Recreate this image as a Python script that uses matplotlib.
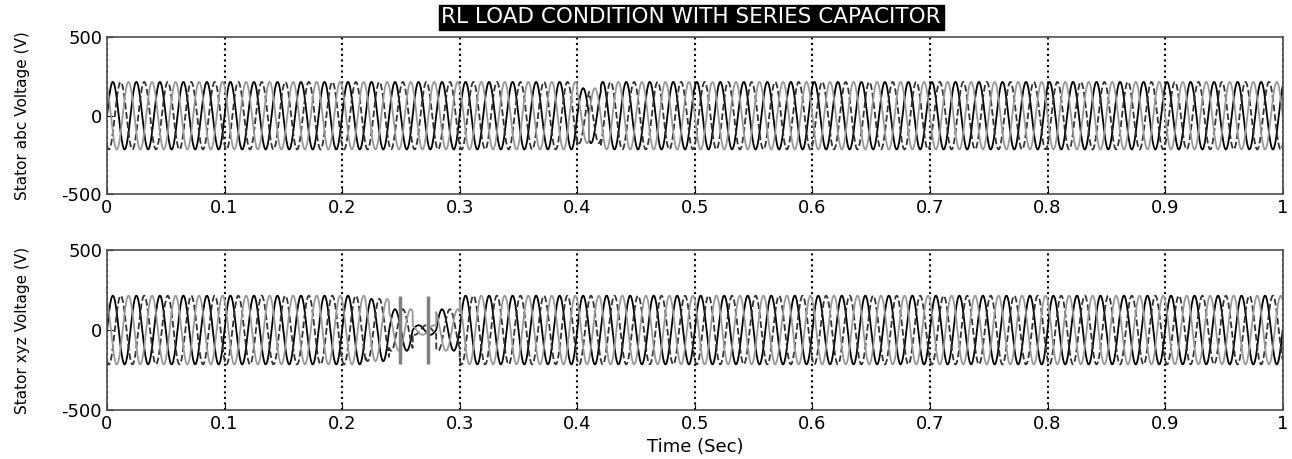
#
#   Stator voltages - RL load with series capacitor
#

import numpy as np
import matplotlib.pyplot as plt

plt.rcParams['font.family'] = ['DejaVu Sans']
plt.rcParams['axes.unicode_minus'] = False

#   Values
f_hz = 50                       # 50 cycles in 1 s
phase_deg = [0, -120, 120]      # three phases
phase_colors = ['black', '0.2', '0.6']
phase_styles = ['-', '--', '-']

#   peak of every 20 ms cycle (V)
abc_peaks = [215] * 20 + [175] + [215] * 29
xyz_peaks = [215] * 11 + [195, 130, 30, 130] + [215] * 35

#   phase step in the abc voltages near 0.4 s
abc_jump_t = 0.41
abc_jump_deg = 60

#   short full-height spikes in the xyz voltages
xyz_spike_t = [0.249, 0.273]
xyz_spike_v = [215, 215]

x_ticks = [0, 0.1, 0.2, 0.3, 0.4, 0.5, 0.6, 0.7, 0.8, 0.9, 1]
x_labels = ['0', '0.1', '0.2', '0.3', '0.4', '0.5', '0.6', '0.7', '0.8', '0.9', '1']
y_ticks = [-500, 0, 500]

t = np.linspace(0, 1, 40001)
cycle = np.minimum((t * f_hz).astype(int), f_hz - 1)


def three_phase(peaks, jump_t=None, jump_deg=0):
    env = np.array(peaks)[cycle]
    shift = np.zeros_like(t)
    if jump_t is not None:
        shift[t >= jump_t] = np.radians(jump_deg)
    return [env * np.sin(2 * np.pi * f_hz * t + np.radians(p) + shift) for p in phase_deg]


fig = plt.figure(figsize=(12.92, 4.59), dpi=100)
ax1 = fig.add_axes([0.0828, 0.577, 0.910, 0.342])
ax2 = fig.add_axes([0.0828, 0.107, 0.910, 0.348])

for v, c, ls in zip(three_phase(abc_peaks, abc_jump_t, abc_jump_deg), phase_colors, phase_styles):
    ax1.plot(t, v, color=c, ls=ls, lw=1.3)

for v, c, ls in zip(three_phase(xyz_peaks), phase_colors, phase_styles):
    ax2.plot(t, v, color=c, ls=ls, lw=1.3)
for st, sv in zip(xyz_spike_t, xyz_spike_v):
    ax2.vlines(st, -sv, sv, color='0.5', lw=2.5)

for ax, lab in [(ax1, 'Stator abc Voltage (V)'), (ax2, 'Stator xyz Voltage (V)')]:
    ax.set_xlim(0, 1)
    ax.set_ylim(-500, 500)
    ax.set_xticks(x_ticks)
    ax.set_xticklabels(x_labels)
    ax.set_yticks(y_ticks)
    ax.tick_params(direction='in', labelsize=13, length=4)
    ax.xaxis.grid(True, linestyle=':', color='black', lw=1.5)
    ax.set_ylabel(lab, fontsize=11)
    ax.yaxis.set_label_coords(-0.0655, 0.5)
    for s in ax.spines.values():
        s.set_color('0.3')
        s.set_linewidth(1.2)

ax2.set_xlabel('Time (Sec)', fontsize=13)

fig.text(0.535, 0.962, 'RL LOAD CONDITION WITH SERIES CAPACITOR', ha='center', va='center',
         color='white', fontsize=15.5, bbox=dict(facecolor='black', edgecolor='black', pad=2))

plt.savefig('out.png', dpi=100)
